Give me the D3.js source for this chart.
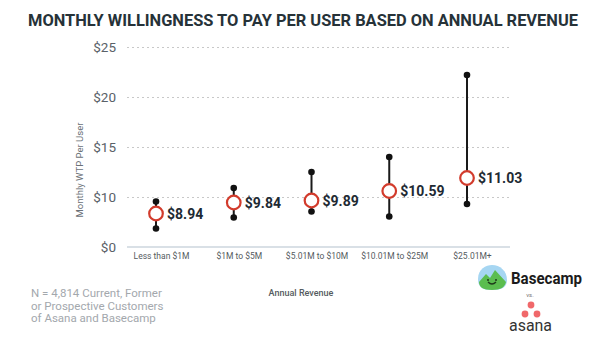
<!DOCTYPE html>
<html>
<head>
<meta charset="utf-8">
<script src="https://cdn.jsdelivr.net/npm/d3@7"></script>
<style>
  body { margin: 0; background: #fff; }
  svg text { font-family: Roboto, "Open Sans", sans-serif; }
</style>
</head>
<body>
<script>
// categories and values
var categories = ["Less than $1M", "$1M to $5M", "$5.01M to $10M", "$10.01M to $25M", "$25.01M+"];
var valueLabels = ["$8.94", "$9.84", "$9.89", "$10.59", "$11.03"];
var mid = [6.7, 8.9, 9.3, 10.6, 11.9];   // marker position as drawn
var low = [3.7, 5.9, 7.1, 6.1, 8.6];
var high = [9.1, 10.9, 12.5, 14.0, 22.2];
var yTicks = [0, 10, 15, 20, 25];
var noteLines = ["N = 4,814 Current, Former", "or Prospective Customers", "of Asana and Basecamp"];

var width = 600, height = 337;
var left = 127, right = 510;

var svg = d3.select("body").append("svg")
    .attr("width", width)
    .attr("height", height);

// title
svg.append("text")
    .attr("x", 303)
    .attr("y", 25.5)
    .attr("text-anchor", "middle")
    .attr("font-size", 16.5)
    .attr("font-weight", 700)
    .attr("fill", "#263238")
    .attr("textLength", 550)
    .attr("lengthAdjust", "spacingAndGlyphs")
    .text("MONTHLY WILLINGNESS TO PAY PER USER BASED ON ANNUAL REVENUE");

// scales (the drawn axis is squeezed below $10)
var x = d3.scalePoint()
    .domain(categories)
    .range([161, 472]);

var y = d3.scaleLinear()
    .domain([0, 10, 25])
    .range([247, 197, 47]);

// y axis with dotted grid
var yAxis = svg.append("g")
    .attr("transform", "translate(" + left + ",0)")
    .call(d3.axisLeft(y)
        .tickValues(yTicks)
        .tickFormat(function (d) { return "$" + d; })
        .tickSize(-(right - left))
        .tickPadding(11));
yAxis.select(".domain").remove();
yAxis.selectAll(".tick line")
    .attr("stroke", "#c8c8c8")
    .attr("stroke-dasharray", "2,3")
    .attr("stroke-width", 1)
    .filter(function (d) { return d === 0; })
    .remove();
yAxis.selectAll(".tick text")
    .attr("font-size", 13.5)
    .attr("fill", "#5a6168");

// baseline
svg.append("line")
    .attr("x1", left)
    .attr("x2", right)
    .attr("y1", y(0))
    .attr("y2", y(0))
    .attr("stroke", "#d9e0e6")
    .attr("stroke-width", 2);

// x axis labels
var xAxis = svg.append("g")
    .attr("transform", "translate(0," + y(0) + ")")
    .call(d3.axisBottom(x).tickSize(0).tickPadding(6));
xAxis.select(".domain").remove();
xAxis.selectAll(".tick text")
    .attr("font-size", 8.5)
    .attr("fill", "#555b60");

// axis titles
svg.append("text")
    .attr("transform", "translate(83,170) rotate(-90)")
    .attr("text-anchor", "middle")
    .attr("font-size", 9.5)
    .attr("fill", "#6b7177")
    .text("Monthly WTP Per User");

svg.append("text")
    .attr("x", 301)
    .attr("y", 296)
    .attr("text-anchor", "middle")
    .attr("font-size", 9)
    .attr("font-weight", 500)
    .attr("fill", "#555b60")
    .text("Annual Revenue");

// whiskers and markers
var shift = -5;
var groups = svg.append("g")
    .selectAll("g")
    .data(categories)
    .join("g")
    .attr("transform", function (d) { return "translate(" + (x(d) + shift) + ",0)"; });

groups.append("line")
    .attr("y1", function (d, i) { return y(low[i]); })
    .attr("y2", function (d, i) { return y(high[i]); })
    .attr("stroke", "#1a1a1a")
    .attr("stroke-width", 2);

groups.append("circle")
    .attr("cy", function (d, i) { return y(low[i]); })
    .attr("r", 3.3)
    .attr("fill", "#111");

groups.append("circle")
    .attr("cy", function (d, i) { return y(high[i]); })
    .attr("r", 3.3)
    .attr("fill", "#111");

groups.append("circle")
    .attr("cy", function (d, i) { return y(mid[i]); })
    .attr("r", 6.8)
    .attr("fill", "#fff")
    .attr("stroke", "#d23b2c")
    .attr("stroke-width", 2.2);

groups.append("text")
    .attr("x", 11)
    .attr("y", function (d, i) { return y(mid[i]); })
    .attr("dy", "0.36em")
    .attr("font-size", 14)
    .attr("font-weight", 700)
    .attr("fill", "#1e2a33")
    .text(function (d, i) { return valueLabels[i]; });

// footnote
svg.append("g")
    .selectAll("text")
    .data(noteLines)
    .join("text")
    .attr("x", 31)
    .attr("y", function (d, i) { return 297 + i * 12.5; })
    .attr("font-size", 11.5)
    .attr("fill", "#a3a8ad")
    .text(function (d) { return d; });

// Basecamp logo
var bc = svg.append("g").attr("transform", "translate(476,265)");
bc.append("path")
    .attr("d", "M2,14 C2,4 10,0 16,0 C24,0 31,6 31,15 C31,22 26,25 16,25 C6,25 2,22 2,14 Z")
    .attr("fill", "#a6d6f2");
bc.append("path")
    .attr("d", "M3,17 L10,9 L14,13 L19,5 L30,17 C29,22 25,25 16,25 C7,25 3,22 3,17 Z")
    .attr("fill", "#5bbd4f");
bc.append("path")
    .attr("d", "M12,17 Q16,21 20,17")
    .attr("fill", "none")
    .attr("stroke", "#1f3a1a")
    .attr("stroke-width", 1.3);
bc.append("circle").attr("cx", 12).attr("cy", 15).attr("r", 1).attr("fill", "#1f3a1a");
bc.append("circle").attr("cx", 20).attr("cy", 15).attr("r", 1).attr("fill", "#1f3a1a");
svg.append("text")
    .attr("x", 511)
    .attr("y", 284)
    .attr("font-size", 17)
    .attr("font-weight", 700)
    .attr("fill", "#1b1b1b")
    .attr("textLength", 71)
    .attr("lengthAdjust", "spacingAndGlyphs")
    .text("Basecamp");

svg.append("text")
    .attr("x", 530)
    .attr("y", 297)
    .attr("text-anchor", "middle")
    .attr("font-size", 6)
    .attr("fill", "#777")
    .text("vs.");

// asana logo
var asana = svg.append("g");
[[531, 305], [525, 314], [537, 314]].forEach(function (p) {
    asana.append("circle").attr("cx", p[0]).attr("cy", p[1]).attr("r", 3.4).attr("fill", "#f0686a");
});
svg.append("text")
    .attr("x", 530.5)
    .attr("y", 331)
    .attr("text-anchor", "middle")
    .attr("font-size", 16)
    .attr("fill", "#333")
    .attr("textLength", 43)
    .attr("lengthAdjust", "spacingAndGlyphs")
    .text("asana");
</script>
</body>
</html>
